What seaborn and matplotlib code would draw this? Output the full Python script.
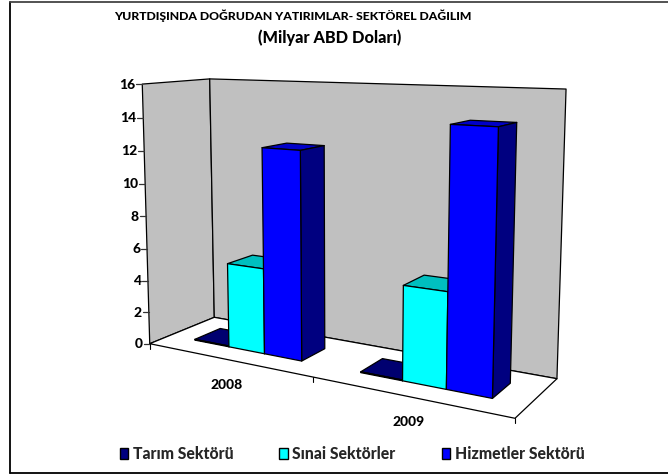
import numpy as np
import pandas as pd
import matplotlib
matplotlib.use("Agg")
import matplotlib.pyplot as plt
import seaborn as sns
from matplotlib.patches import Patch
from matplotlib.lines import Line2D

years = ["2008", "2009"]
sectors = ["Tarım Sektörü", "Sınai Sektörler", "Hizmetler Sektörü"]
tarim = [0.05, 0.05]
sinai = [5.2, 5.4]
hizmet = [12.4, 14.3]
y_ticks = [0, 2, 4, 6, 8, 10, 12, 14, 16]
colors = ["#000080", "#00FFFF", "#0000FF"]
top_colors = ["#000070", "#00BFBF", "#0000C8"]
side_color = "#000080"
wall_color = "#C0C0C0"
FONT = "Lato"
VMAX = 16

sns.set_theme(style="white")
plt.rcParams["font.family"] = [FONT, "DejaVu Sans"]

df = pd.DataFrame({
    "year": years * 3,
    "sector": [s for s in sectors for _ in years],
    "value": tarim + sinai + hizmet,
})

W, H = 668, 474
fig = plt.figure(figsize=(W / 100, H / 100), dpi=100, facecolor="white")

# seaborn computes the dodged bar geometry on a helper axes; it is then projected to 3D
helper = fig.add_axes([0, 0, 0.1, 0.1])
sns.barplot(data=df, x="year", y="value", hue="sector", hue_order=sectors,
            order=years, width=2 / 3, gap=0, ax=helper, legend=False)
bars = [p for c in helper.containers for p in c]
geom = [(p.get_x() + 0.5, p.get_x() + p.get_width() + 0.5, p.get_height()) for p in bars]
helper.set_visible(False)

ax = fig.add_axes([0, 0, 1, 1])
ax.set_xlim(0, W)
ax.set_ylim(H, 0)
ax.axis("off")

# camera calibration of the box: (category, value, depth) -> pixel
calib = [((0, 0, 0), (150, 344)), ((0, 16, 0), (142, 84)), ((0, 0, 1), (214, 317)),
         ((0, 16, 1), (210, 79)), ((2, 0, 1), (557, 379)), ((2, 16, 1), (566, 89)),
         ((2, 0, 0), (515, 418))]
A, b = [], []
for (X, Y, Z), (u, v) in calib:
    A.append([X, Y, Z, 1, 0, 0, 0, 0, -u * X, -u * Y, -u * Z]); b.append(u)
    A.append([0, 0, 0, 0, X, Y, Z, 1, -v * X, -v * Y, -v * Z]); b.append(v)
cam = np.append(np.linalg.lstsq(np.array(A, float), np.array(b, float), rcond=None)[0], 1).reshape(3, 4)


def proj(x, y, z):
    h = cam @ np.array([x, y, z, 1.0])
    return h[0] / h[2], h[1] / h[2]


def face(pts, color, z=2, lw=0.9):
    ax.fill(*zip(*[proj(*p) for p in pts]), facecolor=color, edgecolor="black",
            linewidth=lw, zorder=z, joinstyle="round")


# walls and floor
face([(0, 0, 0), (0, VMAX, 0), (0, VMAX, 1), (0, 0, 1)], wall_color, 1)
face([(0, 0, 1), (0, VMAX, 1), (2, VMAX, 1), (2, 0, 1)], wall_color, 1)
face([(0, 0, 0), (2, 0, 0), (2, 0, 1), (0, 0, 1)], "white", 1)

# axis ticks and labels
for t in y_ticks:
    px, py = proj(0, t, 0)
    ax.plot([px - 6, px], [py, py], color="#333333", lw=0.9, zorder=1.5)
    ax.text(px - 7, py + 0.5, str(t), ha="right", va="center", fontsize=10,
            fontweight=900, color="black")
for i, yr in enumerate(years):
    px, py = proj(i + 0.5, 0, 0)
    ax.text(px, py + 25.5, yr, ha="center", va="center", fontsize=10,
            fontweight=900, color="black")
for k in range(3):
    px, py = proj(k, 0, 0)
    ax.plot([px, px], [py, py + 5], color="black", lw=0.8, zorder=1.5)

# bars
Z0, Z1 = 0.3, 0.7
n = len(years)
for j in range(len(sectors)):
    for i in range(n):
        x0, x1, h = geom[j * n + i]
        face([(x0, h, Z0), (x1, h, Z0), (x1, h, Z1), (x0, h, Z1)], top_colors[j], 3 + j)
        face([(x1, 0, Z0), (x1, h, Z0), (x1, h, Z1), (x1, 0, Z1)], side_color, 3 + j)
        face([(x0, 0, Z0), (x1, 0, Z0), (x1, h, Z0), (x0, h, Z0)], colors[j], 3 + j)

# titles
ax.text(292.5, 16, "YURTDIŞINDA DOĞRUDAN YATIRIMLAR- SEKTÖREL DAĞILIM", ha="center", va="center",
        fontsize=8.8, fontweight=900, color="black")
ax.text(329.5, 38, "(Milyar ABD Doları)", ha="center", va="center",
        fontsize=11.7, fontweight=900, color="black")

# legend
handles = [Patch(facecolor=c, edgecolor="black", linewidth=1.0) for c in colors]
ax.legend(handles, sectors, ncol=3, loc="center", bbox_to_anchor=(352 / W, 1 - 454 / H),
          frameon=False, handlelength=0.56, handleheight=0.66,
          handletextpad=0.27, columnspacing=2.93, prop={"weight": 900, "size": 11.3})

# outer frame: left, top and bottom rules (the right one falls outside the picture)
for xs, ys, c in [([10, 10], [1.5, 473], "black"), ([10, W], [1.5, 1.5], "#444444"),
                  ([10, W], [473, 473], "black")]:
    ax.add_line(Line2D(xs, ys, color=c, lw=1.3, zorder=10))

fig.savefig("out.png", dpi=100, facecolor="white")
